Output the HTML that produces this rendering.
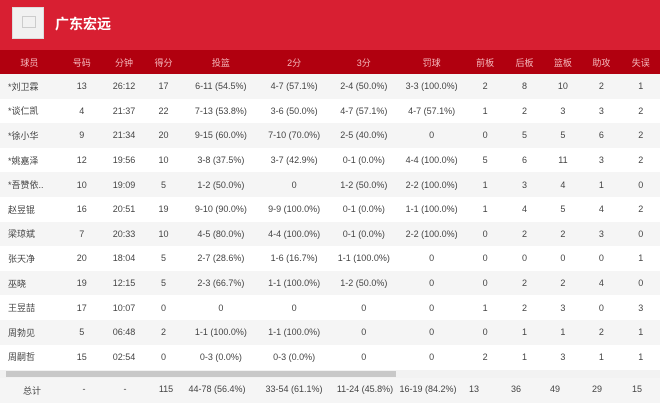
<!DOCTYPE html>
<html><head><meta charset="utf-8"><style>
*{margin:0;padding:0;box-sizing:border-box}
body{width:660px;height:403px;overflow:hidden;background:#fff;font-family:"Liberation Sans","Noto Sans CJK SC",sans-serif;position:relative}
.top{position:absolute;left:0;top:0;width:660px;height:50px;background:#d81f32}
.logo{position:absolute;left:12px;top:7px;width:32px;height:32px;background:#f1f1f1;border:1px solid #ddd}
.logo i{position:absolute;left:9px;top:8px;width:14px;height:12px;border:1px solid #ccc}
.title{position:absolute;left:55px;top:14px;color:#fff;font-size:14px;font-weight:bold}
table{position:absolute;left:0;top:50px;width:660px;border-collapse:collapse;font-size:9px;color:#444}
td{text-align:center;height:24.6px;padding:0;white-space:nowrap}
tr.h td{height:24px;color:#f5b8bc;background:#b1000f}
tr:nth-child(even) td{background:#f5f5f5}
tr:nth-child(odd):not(.h) td{background:#fff}
td.n{text-align:left;padding-left:8px}
.sb{position:absolute;left:0;top:370px;width:660px;height:8px;background:#f2f2f2}
.sb i{position:absolute;left:6px;top:1px;width:390px;height:6px;background:#c8c8c8}
.tot{position:absolute;left:0;top:378px;width:660px;height:25px;background:#f5f5f5}
.tot span{position:absolute;top:6px;font-size:9px;color:#444;transform:translateX(-50%);white-space:nowrap}
</style></head><body>
<div class="top"><div class="logo"><i></i></div><div class="title">广东宏远</div></div>
<table>
<colgroup><col style="width:60px"><col style="width:48px"><col style="width:40px"><col style="width:42px"><col style="width:76px"><col style="width:74px"><col style="width:68px"><col style="width:70px"><col style="width:40px"><col style="width:42px"><col style="width:38px"><col style="width:42px"><col style="width:40px"></colgroup>
<tr class="h"><td>球员</td><td>号码</td><td>分钟</td><td>得分</td><td>投篮</td><td>2分</td><td>3分</td><td>罚球</td><td>前板</td><td>后板</td><td>篮板</td><td>助攻</td><td>失误</td></tr>
<tr><td class="n">*刘卫霖</td><td>13</td><td>26:12</td><td>17</td><td>6-11 (54.5%)</td><td>4-7 (57.1%)</td><td>2-4 (50.0%)</td><td>3-3 (100.0%)</td><td>2</td><td>8</td><td>10</td><td>2</td><td>1</td></tr>
<tr><td class="n">*谈仁凯</td><td>4</td><td>21:37</td><td>22</td><td>7-13 (53.8%)</td><td>3-6 (50.0%)</td><td>4-7 (57.1%)</td><td>4-7 (57.1%)</td><td>1</td><td>2</td><td>3</td><td>3</td><td>2</td></tr>
<tr><td class="n">*徐小华</td><td>9</td><td>21:34</td><td>20</td><td>9-15 (60.0%)</td><td>7-10 (70.0%)</td><td>2-5 (40.0%)</td><td>0</td><td>0</td><td>5</td><td>5</td><td>6</td><td>2</td></tr>
<tr><td class="n">*姚嘉泽</td><td>12</td><td>19:56</td><td>10</td><td>3-8 (37.5%)</td><td>3-7 (42.9%)</td><td>0-1 (0.0%)</td><td>4-4 (100.0%)</td><td>5</td><td>6</td><td>11</td><td>3</td><td>2</td></tr>
<tr><td class="n">*吾赞依..</td><td>10</td><td>19:09</td><td>5</td><td>1-2 (50.0%)</td><td>0</td><td>1-2 (50.0%)</td><td>2-2 (100.0%)</td><td>1</td><td>3</td><td>4</td><td>1</td><td>0</td></tr>
<tr><td class="n">赵昱锟</td><td>16</td><td>20:51</td><td>19</td><td>9-10 (90.0%)</td><td>9-9 (100.0%)</td><td>0-1 (0.0%)</td><td>1-1 (100.0%)</td><td>1</td><td>4</td><td>5</td><td>4</td><td>2</td></tr>
<tr><td class="n">梁琼斌</td><td>7</td><td>20:33</td><td>10</td><td>4-5 (80.0%)</td><td>4-4 (100.0%)</td><td>0-1 (0.0%)</td><td>2-2 (100.0%)</td><td>0</td><td>2</td><td>2</td><td>3</td><td>0</td></tr>
<tr><td class="n">张天净</td><td>20</td><td>18:04</td><td>5</td><td>2-7 (28.6%)</td><td>1-6 (16.7%)</td><td>1-1 (100.0%)</td><td>0</td><td>0</td><td>0</td><td>0</td><td>0</td><td>1</td></tr>
<tr><td class="n">巫晓</td><td>19</td><td>12:15</td><td>5</td><td>2-3 (66.7%)</td><td>1-1 (100.0%)</td><td>1-2 (50.0%)</td><td>0</td><td>0</td><td>2</td><td>2</td><td>4</td><td>0</td></tr>
<tr><td class="n">王昱喆</td><td>17</td><td>10:07</td><td>0</td><td>0</td><td>0</td><td>0</td><td>0</td><td>1</td><td>2</td><td>3</td><td>0</td><td>3</td></tr>
<tr><td class="n">周勃见</td><td>5</td><td>06:48</td><td>2</td><td>1-1 (100.0%)</td><td>1-1 (100.0%)</td><td>0</td><td>0</td><td>0</td><td>1</td><td>1</td><td>2</td><td>1</td></tr>
<tr><td class="n">周嗣哲</td><td>15</td><td>02:54</td><td>0</td><td>0-3 (0.0%)</td><td>0-3 (0.0%)</td><td>0</td><td>0</td><td>2</td><td>1</td><td>3</td><td>1</td><td>1</td></tr>
</table>
<div class="sb"><i></i></div>
<div class="tot">
<span style="left:32px">总计</span><span style="left:84px">-</span><span style="left:125px">-</span><span style="left:166px">115</span><span style="left:217px">44-78 (56.4%)</span><span style="left:294px">33-54 (61.1%)</span><span style="left:365px">11-24 (45.8%)</span><span style="left:428px">16-19 (84.2%)</span><span style="left:474px">13</span><span style="left:516px">36</span><span style="left:555px">49</span><span style="left:597px">29</span><span style="left:637px">15</span>
</div>
</body></html>
